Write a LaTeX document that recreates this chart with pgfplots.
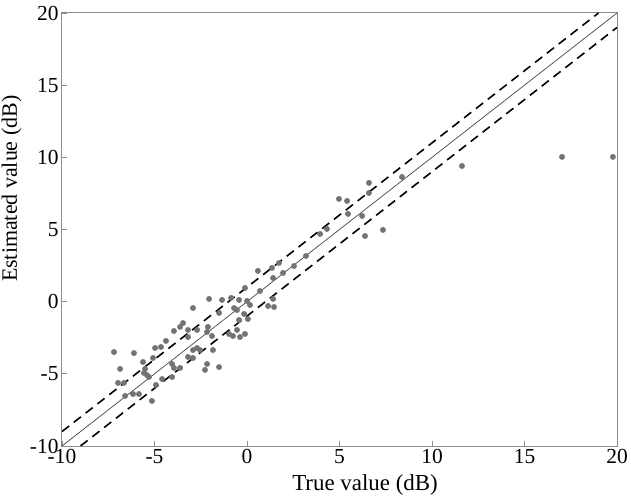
\documentclass[border=0pt]{standalone}
\usepackage{pgfplots}
\pgfplotsset{compat=1.18}
\usepackage{pgfplotstable}
\usepackage{fontspec}
\setmainfont{Liberation Serif}
\definecolor{axgray}{RGB}{140,140,140}
\definecolor{dotgray}{RGB}{115,115,115}
\definecolor{linegray}{RGB}{70,70,70}
\pgfplotstableread{
x y
-7.19 -3.49
-6.11 -3.56
-6.86 -4.66
-6.97 -5.63
-6.65 -5.63
-6.59 -6.53
-6.16 -6.40
-5.84 -6.40
-5.14 -6.88
-5.62 -4.18
-5.08 -3.90
-4.97 -3.21
-4.65 -3.14
-4.38 -2.72
-5.57 -4.94
-5.41 -5.08
-5.30 -5.22
-5.51 -4.66
-4.92 -5.77
-4.59 -5.36
-4.05 -5.22
-4.05 -4.32
-3.95 -4.59
-3.62 -4.59
-3.95 -2.03
-3.62 -1.75
-3.46 -1.48
-3.19 -1.96
-3.19 -2.45
-3.19 -3.83
-2.92 -0.44
-2.70 -1.96
-2.11 -1.75
-2.16 -2.10
-2.05 0.19
-1.35 0.12
-1.89 -2.38
-1.51 -0.78
-0.97 -2.24
-0.76 -2.38
-0.54 -1.96
-0.38 -2.45
-0.11 -2.24
-0.70 -0.44
-0.54 -0.58
-0.43 0.12
0.00 0.05
0.16 -0.23
-0.43 -1.27
0.05 -1.20
-2.92 -3.35
-2.70 -3.21
-2.54 -3.35
-2.92 -3.90
-1.84 -3.35
-2.16 -4.32
-1.51 -4.53
-2.27 -4.73
-0.86 0.26
-0.16 -0.85
-0.11 0.95
0.59 2.13
0.70 0.74
1.14 -0.30
1.35 2.34
1.41 1.64
1.73 2.68
1.95 1.99
2.54 2.47
3.19 3.17
1.41 0.19
1.46 -0.37
3.95 4.69
4.32 5.04
4.97 7.12
5.41 6.98
5.46 6.08
6.22 5.94
6.38 4.55
6.59 8.23
6.59 7.53
7.35 4.97
8.38 8.64
11.62 9.40
17.03 10.03
19.78 10.03
}\pts
\begin{document}
\begin{tikzpicture}
\useasboundingbox (-62bp,-52bp) rectangle (569bp,446bp);
\begin{axis}[
  at={(0,0)}, anchor=south west,
  scale only axis,
  width=555bp, height=433bp,
  xmin=-10, xmax=20, ymin=-10, ymax=20,
  xtick={-10,-5,...,20}, ytick={-10,-5,...,20},
  tick pos=left,
  tick align=inside,
  major tick length=5bp,
  axis line style={axgray, line width=1bp},
  every tick/.style={axgray, line width=0.8bp},
  /pgf/number format/assume math mode=true,
  ticklabel style={font=\fontsize{21.5}{24}\selectfont, text=black},
  xlabel={True value (dB)},
  ylabel={Estimated value (dB)},
  xlabel style={font=\fontsize{23}{26}\selectfont, at={(axis description cs:0.546,0)}, anchor=base, yshift=-44bp},
  ylabel style={font=\fontsize{22}{24}\selectfont, at={(axis description cs:0,0.594)}, anchor=base, yshift=45bp},
]
\addplot[linegray, line width=0.7bp] coordinates {(-10,-10) (20,20)};
\addplot[black, line width=1.6bp, dash pattern=on 9bp off 6bp] coordinates {(-10,-9) (19,20)};
\addplot[black, line width=1.6bp, dash pattern=on 9bp off 6bp] coordinates {(-9,-10) (20,19)};
\addplot[only marks, mark=*, mark size=2.7bp, mark options={fill=dotgray, draw=dotgray}] table[x=x,y=y] {\pts};
\end{axis}
\end{tikzpicture}
\end{document}
